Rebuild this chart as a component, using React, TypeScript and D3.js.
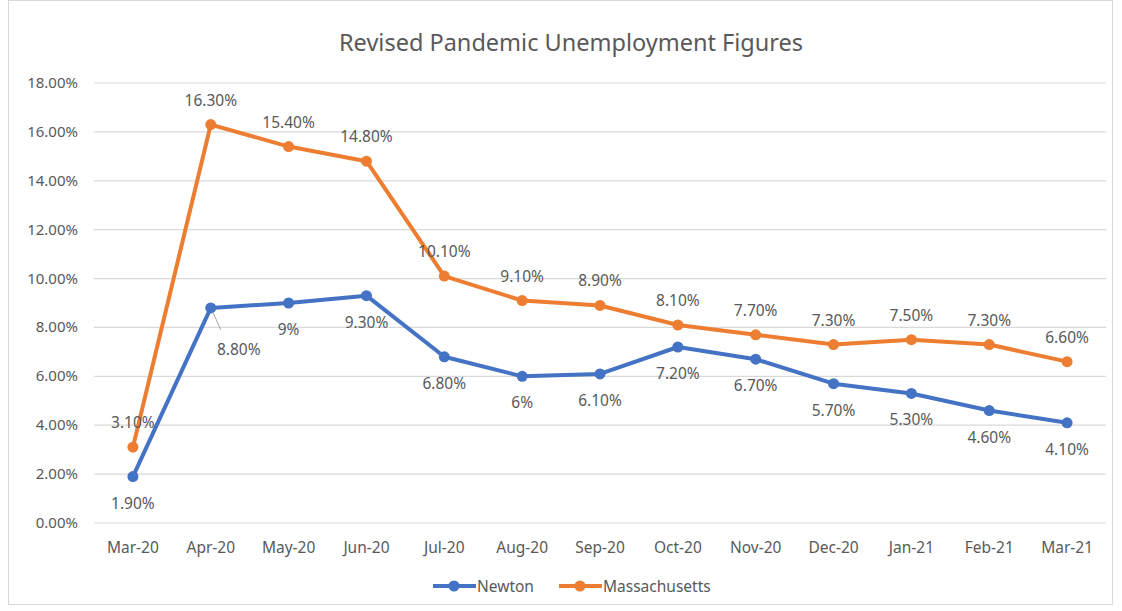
import React, { useEffect, useRef } from 'react';
import * as d3 from 'd3';

const months = ['Mar-20', 'Apr-20', 'May-20', 'Jun-20', 'Jul-20', 'Aug-20', 'Sep-20', 'Oct-20', 'Nov-20', 'Dec-20', 'Jan-21', 'Feb-21', 'Mar-21'];
const newton = [1.9, 8.8, 9.0, 9.3, 6.8, 6.0, 6.1, 7.2, 6.7, 5.7, 5.3, 4.6, 4.1];
const newtonLabels = ['1.90%', '8.80%', '9%', '9.30%', '6.80%', '6%', '6.10%', '7.20%', '6.70%', '5.70%', '5.30%', '4.60%', '4.10%'];
const mass = [3.1, 16.3, 15.4, 14.8, 10.1, 9.1, 8.9, 8.1, 7.7, 7.3, 7.5, 7.3, 6.6];
const massLabels = ['3.10%', '16.30%', '15.40%', '14.80%', '10.10%', '9.10%', '8.90%', '8.10%', '7.70%', '7.30%', '7.50%', '7.30%', '6.60%'];
const yTicks = [0, 2, 4, 6, 8, 10, 12, 14, 16, 18];

const W = 1122, H = 611;
const font = '"Noto Sans", "Open Sans", sans-serif';
const grey = '#595959';

export default function App() {
  const ref = useRef<SVGSVGElement>(null);

  useEffect(() => {
    const svg = d3.select(ref.current);
    svg.selectAll('*').remove();

    const x = d3.scaleBand().domain(months).range([94, 1106]);
    const y = d3.scaleLinear().domain([0, 18]).range([523, 83]);
    const cx = (i: number) => (x(months[i]) as number) + x.bandwidth() / 2;

    svg.append('rect').attr('x', 0).attr('y', 0).attr('width', W).attr('height', H).attr('fill', '#fff');
    svg.append('rect').attr('x', 8.5).attr('y', 0.5).attr('width', 1104).attr('height', 604)
      .attr('fill', 'none').attr('stroke', '#d9d9d9');

    svg.append('text').attr('x', 571).attr('y', 51).attr('text-anchor', 'middle')
      .attr('font-family', font).attr('font-size', 23.5).attr('fill', grey)
      .text('Revised Pandemic Unemployment Figures');

    // grid
    svg.append('g').selectAll('line').data(yTicks).enter().append('line')
      .attr('x1', 94).attr('x2', 1106)
      .attr('y1', d => y(d)).attr('y2', d => y(d))
      .attr('stroke', '#d9d9d9').attr('stroke-width', 1.2);

    svg.append('g').selectAll('text').data(yTicks).enter().append('text')
      .attr('x', 78).attr('y', d => y(d) + 5).attr('text-anchor', 'end')
      .attr('font-family', font).attr('font-size', 15).attr('fill', grey)
      .text(d => d.toFixed(2) + '%');

    svg.append('g').selectAll('text').data(months).enter().append('text')
      .attr('x', (d, i) => cx(i)).attr('y', 553).attr('text-anchor', 'middle')
      .attr('font-family', font).attr('font-size', 15.5).attr('fill', grey)
      .text(d => d);

    const line = d3.line<number>().x((d, i) => cx(i)).y(d => y(d));

    const drawSeries = (vals: number[], color: string) => {
      svg.append('path').datum(vals).attr('d', line).attr('fill', 'none')
        .attr('stroke', color).attr('stroke-width', 4).attr('stroke-linejoin', 'round');
      svg.append('g').selectAll('circle').data(vals).enter().append('circle')
        .attr('cx', (d, i) => cx(i)).attr('cy', d => y(d)).attr('r', 5.5).attr('fill', color);
    };
    drawSeries(newton, '#4472C4');
    drawSeries(mass, '#ED7D31');

    // leader line for Apr-20 Newton label
    svg.append('line').attr('x1', cx(1) + 2).attr('y1', y(newton[1]) + 4)
      .attr('x2', cx(1) + 10).attr('y2', y(newton[1]) + 22)
      .attr('stroke', '#a6a6a6').attr('stroke-width', 1);

    svg.append('g').selectAll('text').data(newton).enter().append('text')
      .attr('x', (d, i) => cx(i) + (i === 1 ? 28 : 0))
      .attr('y', (d, i) => y(d) + (i === 1 ? 47 : 32))
      .attr('text-anchor', 'middle')
      .attr('font-family', font).attr('font-size', 15.5).attr('fill', grey)
      .text((d, i) => newtonLabels[i]);

    svg.append('g').selectAll('text').data(mass).enter().append('text')
      .attr('x', (d, i) => cx(i)).attr('y', d => y(d) - 19)
      .attr('text-anchor', 'middle')
      .attr('font-family', font).attr('font-size', 15.5).attr('fill', grey)
      .text((d, i) => massLabels[i]);

    // legend
    const legend = [{ name: 'Newton', color: '#4472C4', x: 433 }, { name: 'Massachusetts', color: '#ED7D31', x: 559 }];
    legend.forEach(l => {
      const g = svg.append('g');
      g.append('line').attr('x1', l.x).attr('x2', l.x + 43).attr('y1', 586).attr('y2', 586)
        .attr('stroke', l.color).attr('stroke-width', 4);
      g.append('circle').attr('cx', l.x + 21).attr('cy', 586).attr('r', 5.5).attr('fill', l.color);
      g.append('text').attr('x', l.x + 44).attr('y', 592)
        .attr('font-family', font).attr('font-size', 15.5).attr('fill', grey).text(l.name);
    });
  }, []);

  return <svg ref={ref} width={W} height={H} style={{ display: 'block', position: 'absolute', left: 0, top: 0 }} />;
}
